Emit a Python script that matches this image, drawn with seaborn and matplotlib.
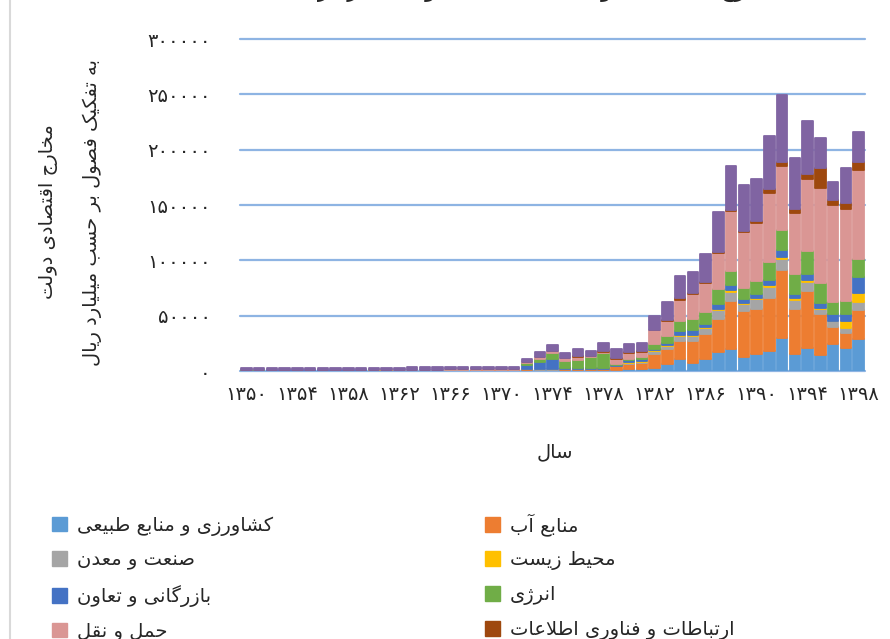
import numpy as np
import pandas as pd
import matplotlib
matplotlib.use('Agg')
import matplotlib.pyplot as plt
from matplotlib.patches import Patch
from matplotlib.lines import Line2D
import seaborn as sns

# data (billion rials), years 1350..1398
years = list(range(1350, 1399))

agri = [150, 150, 160, 160, 170, 170, 180, 180, 190, 190, 200, 200, 210, 210, 220, 220, 230, 240, 250, 260, 270, 280,
        900, 600, 600, 600, 600, 600, 600, 600, 1500, 1500, 3000, 6000, 10500, 7500, 11100, 17200, 20200, 12600,
        15100, 18100, 29500, 15100, 21100, 14100, 24400, 21000, 28600]
water = [120, 120, 130, 130, 140, 140, 150, 150, 160, 160, 170, 170, 180, 180, 190, 190, 200, 210, 220, 230, 240, 250,
         600, 600, 600, 900, 1200, 900, 900, 3600, 4500, 5400, 12000, 13500, 16600, 19600, 22000, 29500, 43000, 41500,
         41200, 48200, 61600, 41200, 51200, 37000, 15000, 12900, 26500]
industry = [60, 60, 60, 60, 70, 70, 70, 70, 80, 80, 80, 80, 90, 90, 90, 90, 100, 100, 100, 110, 110, 120,
            300, 300, 300, 300, 300, 300, 300, 600, 1500, 1500, 3000, 3000, 4500, 4500, 5400, 8400, 8100, 6000,
            8400, 9900, 10500, 7800, 8100, 4500, 5400, 5400, 7500]
environment = [20, 20, 20, 20, 20, 20, 20, 20, 20, 20, 20, 20, 20, 20, 20, 20, 20, 20, 20, 20, 30, 30,
               150, 150, 150, 150, 150, 150, 150, 150, 600, 600, 900, 900, 900, 1200, 1200, 1200, 1500, 1200,
               1200, 1500, 1500, 1500, 1800, 1200, 600, 6000, 7500]
commerce = [100, 100, 110, 110, 110, 120, 120, 120, 130, 130, 130, 140, 140, 140, 150, 150, 160, 170, 180, 190, 200, 220,
            3600, 6600, 9000, 600, 600, 600, 600, 600, 1800, 1500, 1200, 2100, 3600, 4200, 3000, 4500, 4800, 4200,
            3300, 4200, 6000, 4200, 5700, 4200, 5700, 6600, 15000]
energy = [90, 90, 100, 100, 100, 110, 110, 110, 120, 120, 120, 130, 130, 130, 140, 140, 150, 160, 170, 180, 190, 200,
          1500, 3000, 5400, 6600, 6900, 9900, 13500, 1200, 1200, 2400, 3900, 6000, 9000, 10200, 10800, 12900, 13200, 9600,
          12000, 16600, 18000, 18100, 20500, 18700, 11400, 11100, 16500]
transport = [350, 350, 360, 370, 380, 390, 400, 400, 410, 420, 430, 440, 450, 460, 470, 480, 500, 520, 540, 560, 580, 600,
             900, 1500, 1800, 2700, 3000, 1200, 1500, 4500, 5400, 4200, 12900, 13500, 19000, 22000, 26200, 32500, 53600, 50600,
             52700, 62000, 57700, 55100, 64700, 85800, 87200, 83600, 79700]
ict = [20, 20, 20, 20, 20, 20, 20, 20, 20, 20, 20, 20, 20, 20, 20, 20, 20, 20, 20, 20, 20, 20,
       300, 300, 300, 300, 600, 300, 900, 900, 900, 600, 600, 900, 1500, 900, 900, 1200, 1500, 1200,
       1500, 3600, 3900, 3600, 4500, 18100, 4500, 5100, 7500]
housing = [1600, 1650, 1650, 1700, 1700, 1750, 1750, 1800, 1800, 1850, 1850, 1900, 1900, 1950, 1950, 2000, 2050, 2100, 2150, 2200, 2250, 2300,
           3000, 4200, 5100, 4500, 6900, 4500, 6600, 7500, 6600, 7200, 12000, 16300, 20200, 19300, 25300, 36100, 39100, 41500,
           38200, 48200, 61000, 46100, 48200, 27100, 16500, 31900, 27100]

series_names = ['کشاورزی و منابع طبیعی', 'منابع آب', 'صنعت و معدن', 'محیط زیست', 'بازرگانی و تعاون',
                'انرژی', 'حمل و نقل', 'ارتباطات و فناوری اطلاعات', 'مسکن، عمران شهری و روستایی']
series_vals = [agri, water, industry, environment, commerce, energy, transport, ict, housing]
colors = ['#5B9BD5', '#ED7D31', '#A5A5A5', '#FFC000', '#4472C4', '#70AD47', '#DA9694', '#9E480E', '#8064A2']

# --- simple Persian shaping (matplotlib has no bidi / shaping) ---
FORMS = {
    'ا': ('\uFE8D', '\uFE8E', None, None), 'آ': ('\uFE81', '\uFE82', None, None),
    'ب': ('\uFE8F', '\uFE90', '\uFE91', '\uFE92'), 'ت': ('\uFE95', '\uFE96', '\uFE97', '\uFE98'),
    'ج': ('\uFE9D', '\uFE9E', '\uFE9F', '\uFEA0'), 'ح': ('\uFEA1', '\uFEA2', '\uFEA3', '\uFEA4'),
    'خ': ('\uFEA5', '\uFEA6', '\uFEA7', '\uFEA8'), 'د': ('\uFEA9', '\uFEAA', None, None),
    'ر': ('\uFEAD', '\uFEAE', None, None), 'ز': ('\uFEAF', '\uFEB0', None, None),
    'ژ': ('\uFB8A', '\uFB8B', None, None), 'س': ('\uFEB1', '\uFEB2', '\uFEB3', '\uFEB4'),
    'ش': ('\uFEB5', '\uFEB6', '\uFEB7', '\uFEB8'), 'ص': ('\uFEB9', '\uFEBA', '\uFEBB', '\uFEBC'),
    'ط': ('\uFEC1', '\uFEC2', '\uFEC3', '\uFEC4'), 'ع': ('\uFEC9', '\uFECA', '\uFECB', '\uFECC'),
    'ف': ('\uFED1', '\uFED2', '\uFED3', '\uFED4'), 'ق': ('\uFED5', '\uFED6', '\uFED7', '\uFED8'),
    'ل': ('\uFEDD', '\uFEDE', '\uFEDF', '\uFEE0'), 'م': ('\uFEE1', '\uFEE2', '\uFEE3', '\uFEE4'),
    'ن': ('\uFEE5', '\uFEE6', '\uFEE7', '\uFEE8'), 'ه': ('\uFEE9', '\uFEEA', '\uFEEB', '\uFEEC'),
    'و': ('\uFEED', '\uFEEE', None, None), 'ی': ('\uFBFC', '\uFBFD', '\uFBFE', '\uFBFF'),
    'ک': ('\uFB8E', '\uFB8F', '\uFB90', '\uFB91'), 'گ': ('\uFB92', '\uFB93', '\uFB94', '\uFB95'),
}
LAM_ALEF = {'ا': ('\uFEFB', '\uFEFC'), 'آ': ('\uFEF5', '\uFEF6')}


def shape_line(text):
    res = []
    i = 0
    n = len(text)
    while i < n:
        c = text[i]
        if c not in FORMS:
            res.append(c)
            i += 1
            continue
        prev = text[i - 1] if i > 0 else None
        link_prev = prev in FORMS and FORMS[prev][2] is not None
        if c == 'ل' and i + 1 < n and text[i + 1] in LAM_ALEF:
            iso, fin = LAM_ALEF[text[i + 1]]
            res.append(fin if link_prev else iso)
            i += 2
            continue
        nxt = text[i + 1] if i + 1 < n else None
        link_next = FORMS[c][2] is not None and nxt in FORMS
        iso, fin, ini, med = FORMS[c]
        if link_prev and link_next:
            res.append(med)
        elif link_next:
            res.append(ini)
        elif link_prev:
            res.append(fin)
        else:
            res.append(iso)
        i += 1
    return ''.join(reversed(res))


def fa(text):
    return '\n'.join(shape_line(t) for t in text.split('\n'))


def fa_num(v):
    return str(int(v)).translate(str.maketrans('0123456789', '۰۱۲۳۴۵۶۷۸۹'))


rows = []
for name, vals in zip(series_names, series_vals):
    for y, v in zip(years, vals):
        rows.append({'year': y, 'series': name, 'value': v})
df = pd.DataFrame(rows)

sns.set_theme(style='white')
plt.rcParams['font.family'] = ['DejaVu Sans']

fig = plt.figure(figsize=(8.9, 6.39), dpi=100)
ax = fig.add_axes([240 / 890, 1 - 371 / 639, 625 / 890, 332 / 639])

sns.histplot(data=df, x='year', weights='value', hue='series', hue_order=series_names[::-1],
             palette=dict(zip(series_names, colors)), multiple='stack', discrete=True, shrink=0.82,
             alpha=1, linewidth=0, legend=False, ax=ax, zorder=3)

# rounded look of the bar segments
for p in ax.patches:
    p.set_edgecolor(p.get_facecolor())
    p.set_linewidth(1.3)
    p.set_joinstyle('round')

ax.set_xlim(1349.5, 1398.5)
ax.set_ylim(0, 300000)
yt = np.arange(0, 300001, 50000)
ax.set_yticks(yt)
ax.set_yticklabels([fa_num(v) for v in yt], fontsize=14)
xt = years[::4]
ax.set_xticks(xt)
ax.set_xticklabels([fa_num(v) for v in xt], fontsize=14)
ax.tick_params(axis='y', length=0, pad=21)
ax.tick_params(axis='x', length=0, pad=10)
ax.set_xlabel('')
ax.set_ylabel('')
ax.yaxis.grid(True, color='#8EB4E3', linewidth=1.6, zorder=0)
for gl in ax.get_ygridlines():
    gl.set_clip_on(False)
ax.xaxis.grid(False)
for s in ax.spines.values():
    s.set_visible(False)

fig.text(71 / 890, 1 - 212 / 639, fa('مخارج اقتصادی دولت\nبه تفکیک فصول بر حسب میلیارد ریال'),
         rotation=90, ha='center', va='center', fontsize=14, linespacing=2.6, multialignment='center')
fig.text(555 / 890, 1 - 452 / 639, fa('سال'), ha='center', va='center', fontsize=14)
fig.text(0.6, 1 + 4 / 639, fa('مخارج اقتصادی دولت به تفکیک فصول میلیارد ریال'),
         ha='center', va='baseline', fontsize=17)

handles = [Patch(facecolor=c, edgecolor=c) for c in colors]
labels = [fa(n) for n in series_names]
left_idx = [0, 2, 4, 6, 8]
right_idx = [1, 3, 5, 7]
kw = dict(frameon=False, fontsize=14, handlelength=0.8, handleheight=0.8, handletextpad=0.5,
          labelspacing=0.76, borderpad=0, loc='upper left')
fig.legend([handles[i] for i in left_idx], [labels[i] for i in left_idx],
           bbox_to_anchor=(42 / 890, 1 - 506 / 639), **kw)
fig.legend([handles[i] for i in right_idx], [labels[i] for i in right_idx],
           bbox_to_anchor=(475 / 890, 1 - 503 / 639), **kw)

fig.add_artist(Line2D([10 / 890, 10 / 890], [0, 1], color='#D9D9D9', linewidth=1.5))

fig.savefig('out.png', dpi=100)
